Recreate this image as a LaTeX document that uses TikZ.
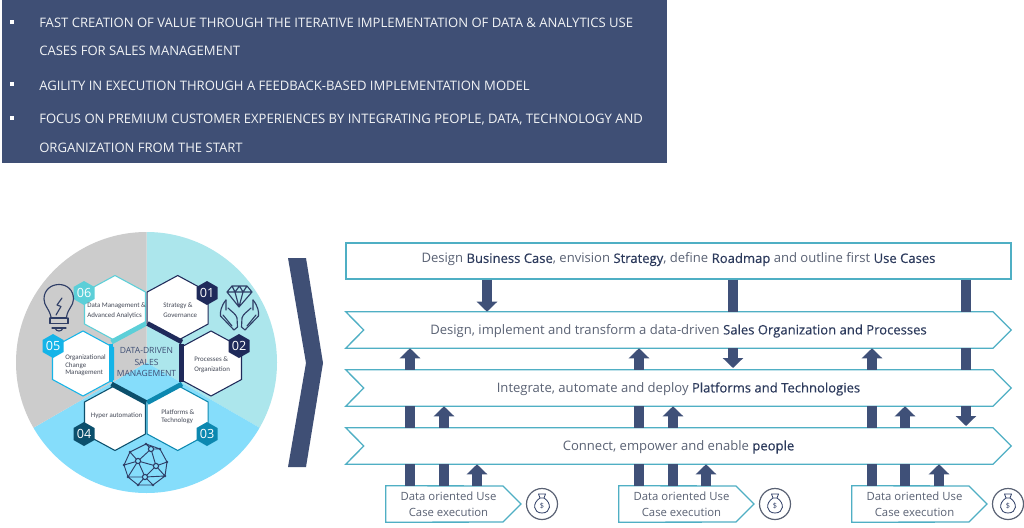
\documentclass[tikz,border=0pt]{standalone}
\usepackage{fontspec}
\setmainfont{Open Sans}
\newfontfamily\semi[FakeBold=0.25]{Open Sans}
\newfontfamily\narrow{Carlito}
\usetikzlibrary{arrows.meta,calc}
\definecolor{navy}{HTML}{3F4F75}
\definecolor{arrowc}{HTML}{3F5078}
\definecolor{panel}{HTML}{4FAFC4}
\definecolor{txt}{HTML}{5A6274}
\definecolor{strong}{HTML}{2C3A5C}
\definecolor{iconc}{HTML}{2F3E66}
\definecolor{lcyan}{HTML}{ACE6EC}
\definecolor{lblue}{HTML}{85DDFB}
\definecolor{lgrey}{HTML}{CCCCCC}
\definecolor{cA}{HTML}{1F2A5A}
\definecolor{cC}{HTML}{0C88B0}
\definecolor{cD}{HTML}{0B4F6C}
\definecolor{cE}{HTML}{14B4E8}
\definecolor{cF}{HTML}{5CCFD8}
\tikzset{
  headtext/.style={anchor=west,inner sep=0pt,text=white!93!navy,font=\fontsize{9.8}{12}\selectfont},
  bulletmark/.style={fill=white,minimum size=3pt,inner sep=0pt},
  paneltext/.style={inner sep=0pt,text=txt,font=\fontsize{9.8}{12}\selectfont},
  boxnode/.style={inner sep=0pt,minimum width=498.75pt,minimum height=27pt},
  smallbox/.style={inner sep=0pt,minimum width=101.25pt,minimum height=27pt},
  smalltext/.style={inner sep=0pt,align=center,text=txt,font=\fontsize{8.5}{12}\selectfont},
  outline/.style={draw=panel,line width=1pt,fill=white,line join=miter},
  barline/.style={draw=arrowc,line width=7.5pt},
  uparrow/.style={draw=arrowc,line width=7.5pt,-{Triangle[length=7.5pt,width=15pt,color=arrowc]}},
  hextext/.style={anchor=west,inner sep=0pt,text=txt!75!black,font=\narrow\fontsize{5.2}{7.2}\selectfont,align=left},
  hextight/.style={hextext,font=\narrow\fontsize{5.2}{5.6}\selectfont},
  badgetext/.style={inner sep=0pt,text=white,font=\fontsize{9.5}{11}\selectfont},
  icon/.style={draw=iconc,line width=.85pt,line join=round,line cap=round},
}
\newcommand{\str}[1]{{\semi\color{strong}#1}}
\newcommand{\bighex}[3]{\path[fill=white,draw=#3,line width=.8pt] (#1,#2-32.5) -- (#1+30.5,#2-16) -- (#1+30.5,#2+16) -- (#1,#2+32.5) -- (#1-30.5,#2+16) -- (#1-30.5,#2-16) -- cycle;}
\newcommand{\badge}[4]{\fill[#3] (#1,#2-12) -- (#1+10.5,#2-6) -- (#1+10.5,#2+6) -- (#1,#2+12) -- (#1-10.5,#2+6) -- (#1-10.5,#2-6) -- cycle;
  \node[badgetext] (b#4) at (#1,#2) {#4};}
\newcommand{\chevron}[3]{%
  \node[boxnode] (#1) at (678.5,#2) {};
  \path[outline] (#1.north west) -- (#1.north west -| 993,0) -- (#1.east) -- (#1.south west -| 993,0) -- (#1.south west) -- ($(#1.west)+(18,0)$) -- cycle;
  \node[paneltext] (#1t) at (678.5,#2+1) {#3};}
\newcommand{\caseblock}[2]{%
  \node[smallbox] (#1) at (#2+67.5,504) {};
  \path[outline] (#1.north west) -- (#2+117,486) -- (#2+135,504) -- (#2+117,522) -- (#1.south west) -- cycle;
  \node[smalltext] (#1t) at (#2+62.5,504) {Data oriented Use\\Case execution};
  \begin{scope}[shift={(#2+156,504)}]
    \draw[draw=txt,line width=.9pt,fill=white] (0,0) circle [radius=15.5];
    \draw[icon,line width=.6pt] (-3.5,-10) -- (3.5,-10) -- (2,-6) -- (-2,-6) -- cycle
      (-2,-6) .. controls (-10,-1) and (-9,9) .. (0,9) .. controls (9,9) and (10,-1) .. (2,-6);
    \node[inner sep=0pt,text=iconc,font=\fontsize{5.5}{6}\selectfont] at (0,2) {\$};
  \end{scope}}
\begin{document}
\begin{tikzpicture}[x=0.75pt,y=-0.75pt]
\useasboundingbox (0,0) rectangle (1024,528);
\fill[white] (0,0) rectangle (1024,528);
% header
\fill[navy] (2,0) rectangle (667,163);
\foreach \n/\yy in {a/23,b/85,c/119}{\node[bulletmark] (bul\n) at (12,\yy-1) {};}
\node[headtext] (h1) at (39,23) {FAST CREATION OF VALUE THROUGH THE ITERATIVE IMPLEMENTATION OF DATA \& ANALYTICS USE};
\node[headtext] (h2) at (39,50.5) {CASES FOR SALES MANAGEMENT};
\node[headtext] (h3) at (39,85.7) {AGILITY IN EXECUTION THROUGH A FEEDBACK-BASED IMPLEMENTATION MODEL};
\node[headtext] (h4) at (39,120) {FOCUS ON PREMIUM CUSTOMER EXPERIENCES BY INTEGRATING PEOPLE, DATA, TECHNOLOGY AND};
\node[headtext] (h5) at (39,147.5) {ORGANIZATION FROM THE START};
% disc
\begin{scope}
\clip (146.5,362.5) circle [radius=130.5];
\fill[lcyan] (146.5,362.5) -- (146.5,200) -- (400,200) -- (400,508.8) -- cycle;
\fill[lblue] (146.5,362.5) -- (400,508.8) -- (400,600) -- (-100,600) -- (-100,504.8) -- cycle;
\fill[lgrey] (146.5,362.5) -- (146.5,200) -- (-100,200) -- (-100,504.8) -- cycle;
\end{scope}
% hexagons
\bighex{115}{308}{cF}
\bighex{177.7}{308}{cA}
\bighex{211}{363.5}{cA}
\bighex{83}{363.5}{cE}
\bighex{115}{418}{cD}
\bighex{177.7}{418}{cC}
% centre bars
\draw[cF,line width=3.6pt] (111.5,342) -- (146,323.5);
\draw[cA,line width=3.6pt] (147.5,323.5) -- (182,342);
\draw[cA,line width=3.6pt] (181.5,344) -- (181.5,382);
\draw[cC,line width=3.6pt] (182,384) -- (147.5,402.5);
\draw[cD,line width=3.6pt] (111.5,384) -- (146,402.5);
\draw[cE,line width=3.6pt] (111,344) -- (111,382);
% badges
\badge{84}{293}{cF}{06}
\badge{207}{293}{cA}{01}
\badge{239}{346}{cA}{02}
\badge{53}{346}{cE}{05}
\badge{84}{434}{cD}{04}
\badge{207}{434}{cC}{03}
% hex labels
\node[hextext] (t6) at (87,310.5) {Data Management \&\\Advanced Analytics};
\node[hextext] (t1) at (163,310) {Strategy \&\\Governance};
\node[hextext] (t2) at (194,364.7) {Processes \&\\Organization};
\node[hextight] (t5) at (65,365.3) {Organizational\\Change\\Management};
\node[hextext] (t4) at (90.7,415.7) {Hyper automation};
\node[hextight] (t3) at (161,416.5) {Platforms \&\\Technology};
\node[inner sep=0pt,align=center,text=navy,font=\fontsize{6.4}{8.8}\selectfont] (tc) at (146.5,362) {DATA-DRIVEN\\SALES\\MANAGEMENT};
% bulb
\draw[icon] (51,317) .. controls (49,308) and (44,306) .. (44,299) .. controls (44,290) and (51,284.5) .. (59,284.5) .. controls (67,284.5) and (73.5,290) .. (73.5,299) .. controls (73.5,306) and (68,308) .. (66.5,317);
\draw[icon] (62,298) -- (57,305) -- (61,306.5) -- (56,315);
\draw[icon] (50,318) -- (67,318) (50,323.5) -- (68,323.5) (52,328) -- (66,328) (50,318) -- (50,323.5) (68,318) -- (68,323.5);
\draw[icon] (55,328) .. controls (56,332) and (62,332) .. (63,328);
% diamond + hands
\draw[icon] (232,286) -- (247,286) -- (252,292) -- (239,307) -- (227,292) -- cycle
  (227,292) -- (252,292) (232,286) -- (235,292) -- (239,307) -- (243,292) -- (247,286) (235,292) -- (239.5,286) -- (243,292);
\draw[icon] (226,300) .. controls (221,306) and (220,312) .. (220.5,316) -- (234,330) -- (237.5,327) -- (237,318) .. controls (236,314) and (232,312) .. (228,308);
\draw[icon] (226,300) -- (226,310) (223,315) -- (232,326);
\draw[icon] (253,300) .. controls (258,306) and (259,312) .. (258.5,316) -- (245,330) -- (241.5,327) -- (242,318) .. controls (243,314) and (247,312) .. (251,308);
\draw[icon] (253,300) -- (253,310) (256,315) -- (247,326);
% network
\draw[icon,line width=.7pt] (146,444) -- (160,449) -- (167,462) -- (165,476) -- (153,485) -- (138,485) -- (128,477) -- (124,465) -- (130,452) -- cycle
 (130,452) -- (138,461) -- (151,449) -- (160,449) (138,461) -- (124,465) (138,461) -- (128,477) (138,461) -- (156,466) -- (167,462) (156,466) -- (151,449) (156,466) -- (165,476) (156,466) -- (145,477) -- (138,461) (145,477) -- (128,477) (145,477) -- (153,485) (145,477) -- (165,476) (146,444) -- (151,449) (138,485) -- (145,477);
\foreach \p in {(138,461),(156,466),(145,477),(151,449)}{\draw[icon,fill=lblue] \p circle [radius=2.6];}
\foreach \p in {(146,444),(160,449),(167,462),(165,476),(153,485),(138,485),(128,477),(124,465),(130,452)}{\fill[iconc] \p circle [radius=1.3];}
% large chevron
\fill[navy] (288,258) -- (306,258) -- (323,363) -- (306,467) -- (288,467) -- (306,363) -- cycle;
% panels
\node[boxnode,outline] (top) at (678.5,261) {};
\node[paneltext] (topt) at (678.5,259.5) {Design \str{Business Case}, envision \str{Strategy}, define \str{Roadmap} and outline first \str{Use Cases}};
\chevron{pA}{330}{Design, implement and transform a data-driven \str{Sales Organization and Processes}}
\chevron{pB}{388}{Integrate, automate and deploy \str{Platforms and Technologies}}
\chevron{pC}{446}{Connect, empower and enable \str{people}}
\caseblock{uA}{386}
\caseblock{uB}{619}
\caseblock{uC}{852}
% down connectors
\draw[uparrow] (487,0 |- top.south) -- (487,0 |- pA.north);
\draw[barline] (733,0 |- top.south) -- (733,0 |- pA.north);
\draw[uparrow] (733,0 |- pA.south) -- (733,368);
\draw[barline] (966,0 |- top.south) -- (966,0 |- pA.north);
\draw[barline] (966,0 |- pA.south) -- (966,0 |- pB.north);
\draw[uparrow] (966,0 |- pB.south) -- (966,426);
% up connectors
\foreach \xa/\xb/\xc/\u in {410/444/477/uA,639/673/706/uB,872/905/939/uC}{
  \draw[uparrow] (\xa,0 |- pB.north) -- (\xa,0 |- pA.south);
  \draw[barline] (\xa,0 |- pC.north) -- (\xa,0 |- pB.south);
  \draw[barline] (\xa,0 |- \u.north) -- (\xa,0 |- pC.south);
  \draw[uparrow] (\xb,0 |- pC.north) -- (\xb,0 |- pB.south);
  \draw[barline] (\xb,0 |- \u.north) -- (\xb,0 |- pC.south);
  \draw[uparrow] (\xc,0 |- \u.north) -- (\xc,0 |- pC.south);
}
\end{tikzpicture}
\end{document}
